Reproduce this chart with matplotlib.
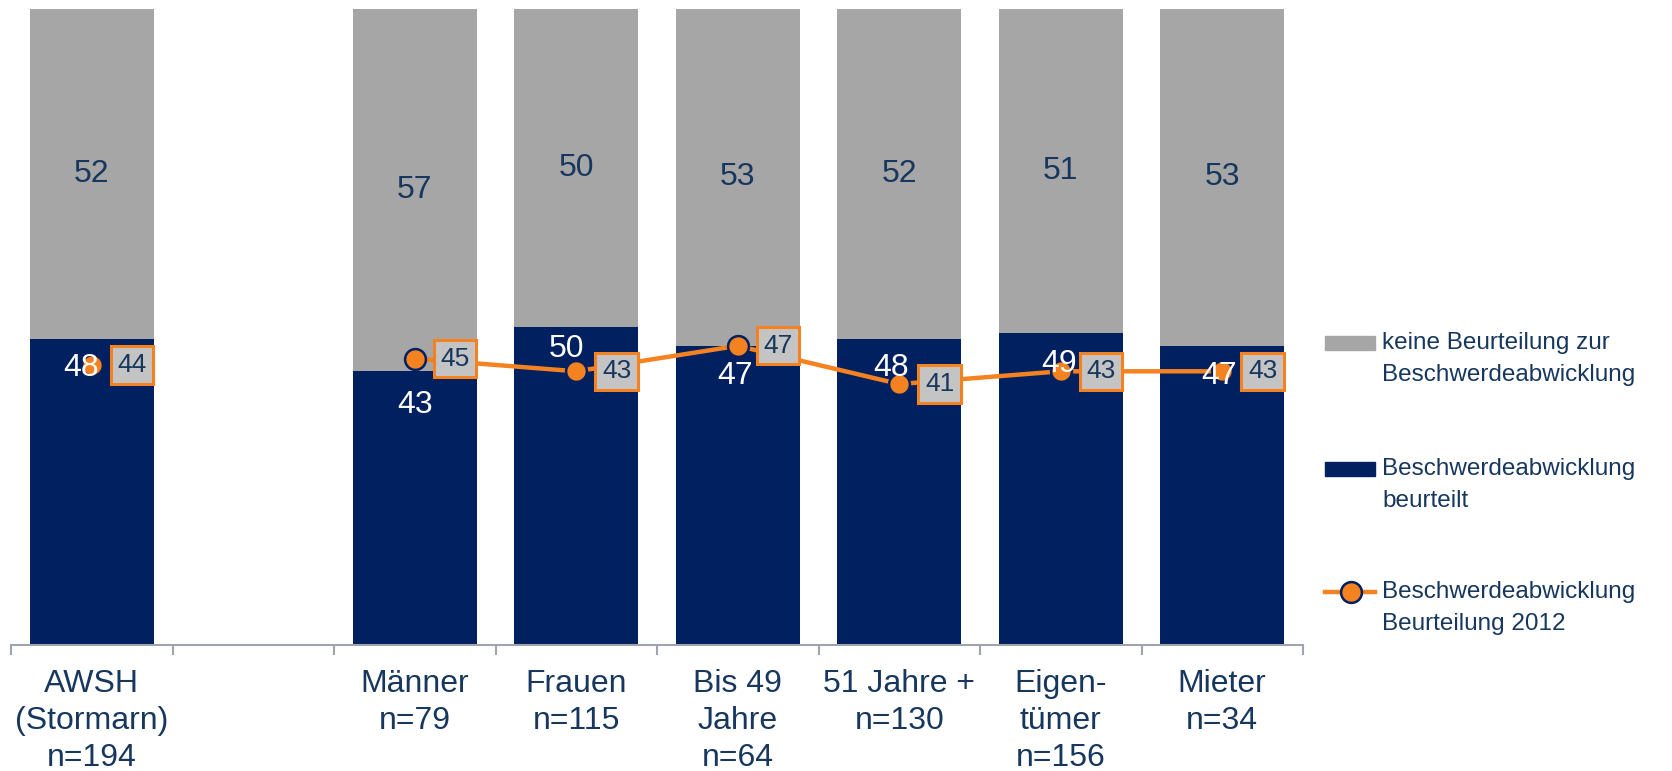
import numpy as np
import matplotlib
matplotlib.use("Agg")
import matplotlib.pyplot as plt
from matplotlib.patches import Rectangle
from matplotlib.lines import Line2D

plt.rcParams['font.family'] = ['Liberation Sans', 'DejaVu Sans']

categories = ["AWSH\n(Stormarn)\nn=194", "", "Männer\nn=79", "Frauen\nn=115",
              "Bis 49\nJahre\nn=64", "51 Jahre +\nn=130", "Eigen-\ntümer\nn=156", "Mieter\nn=34"]
beurteilt = [48, np.nan, 43, 50, 47, 48, 49, 47]
keine = [52, np.nan, 57, 50, 53, 52, 51, 53]
beurteilung_2012 = [44, np.nan, 45, 43, 47, 41, 43, 43]

legend_labels = ["keine Beurteilung zur\nBeschwerdeabwicklung",
                 "Beschwerdeabwicklung\nbeurteilt",
                 "Beschwerdeabwicklung\nBeurteilung 2012"]

NAVY = "#002060"
GRAY = "#A6A6A6"
ORANGE = "#F58220"
TEXT = "#17375E"
BOXFACE = "#C4C4C4"

# label offsets (points) for the white labels in the navy segments
lab_dx = [-8, 0, 0, -7, -2, -6, -1.5, -2]
lab_dy = [-20.7, 0, -24.6, -15.7, -21.5, -20.7, -22.3, -21.5]

W, H = 1672, 771
fig = plt.figure(figsize=(W / 100, H / 100), dpi=100)
ax = fig.add_axes([11 / W, 1 - 645 / H, (1303 - 11) / W, (645 - 8.5) / H])

x = np.arange(len(categories))
b = np.array(beurteilt, dtype=float)
k = np.array(keine, dtype=float)
ax.bar(x, b, width=0.77, color=NAVY, zorder=2)
ax.bar(x, k, width=0.77, bottom=b, color=GRAY, zorder=2)

ax.plot(x, beurteilung_2012, color=ORANGE, lw=3.2, marker="o", markersize=15,
        markerfacecolor=ORANGE, markeredgecolor=NAVY, markeredgewidth=1.8, zorder=4)

for i in range(len(x)):
    if np.isnan(b[i]):
        continue
    ax.text(x[i], b[i] + k[i] / 2, f"{k[i]:.0f}", ha="center", va="center",
            fontsize=23, color=TEXT, zorder=5)
    ax.annotate(f"{b[i]:.0f}", (x[i], b[i]), xytext=(lab_dx[i], lab_dy[i]),
                textcoords="offset points", ha="center", va="center",
                fontsize=23, color="white", zorder=5)
    v = beurteilung_2012[i]
    ax.annotate(f"{v:.0f}", (x[i], v), xytext=(29, 0), textcoords="offset points",
                ha="center", va="center", fontsize=19, color=TEXT, zorder=6,
                bbox=dict(boxstyle="square,pad=0.25", fc=BOXFACE, ec=ORANGE, lw=2.2))

ax.set_xlim(-0.5, len(x) - 0.5)
ax.set_ylim(0, 100)
ax.set_yticks([])
for s in ["top", "right", "left"]:
    ax.spines[s].set_visible(False)
ax.spines["bottom"].set_color("#A0A4AE")
ax.spines["bottom"].set_linewidth(1.5)
ax.set_xticks(np.arange(-0.5, len(x), 1))
ax.set_xticklabels([])
ax.tick_params(axis="x", which="major", length=7, width=1.5, color="#A0A4AE", direction="out")
ax.set_xticks(x, minor=True)
ax.set_xticklabels(categories, minor=True, fontsize=23, color=TEXT, linespacing=1.32)
ax.tick_params(axis="x", which="minor", length=0, pad=17)

# manual legend (handles aligned with first text line)
def fx(px):
    return px / W

def fy(py):
    return 1 - py / H

entries = [(343, "patch", GRAY), (469, "patch", NAVY), (592, "line", ORANGE)]
for (yc, kind, col), lab in zip(entries, legend_labels):
    if kind == "patch":
        fig.add_artist(Rectangle((fx(1325), fy(yc + 7)), fx(50), 14 / H,
                                 transform=fig.transFigure, color=col))
    else:
        fig.add_artist(Line2D([fx(1325), fx(1375)], [fy(yc), fy(yc)], color=ORANGE, lw=3.2,
                              transform=fig.transFigure))
        fig.add_artist(Line2D([fx(1351)], [fy(yc)], marker="o", markersize=15,
                              markerfacecolor=ORANGE, markeredgecolor=NAVY,
                              markeredgewidth=1.8, transform=fig.transFigure))
    for j, line in enumerate(lab.split("\n")):
        fig.text(fx(1382), fy(yc + 32 * j), line, ha="left", va="center",
                 fontsize=17.5, color=TEXT)

fig.savefig("out.png", dpi=100)
